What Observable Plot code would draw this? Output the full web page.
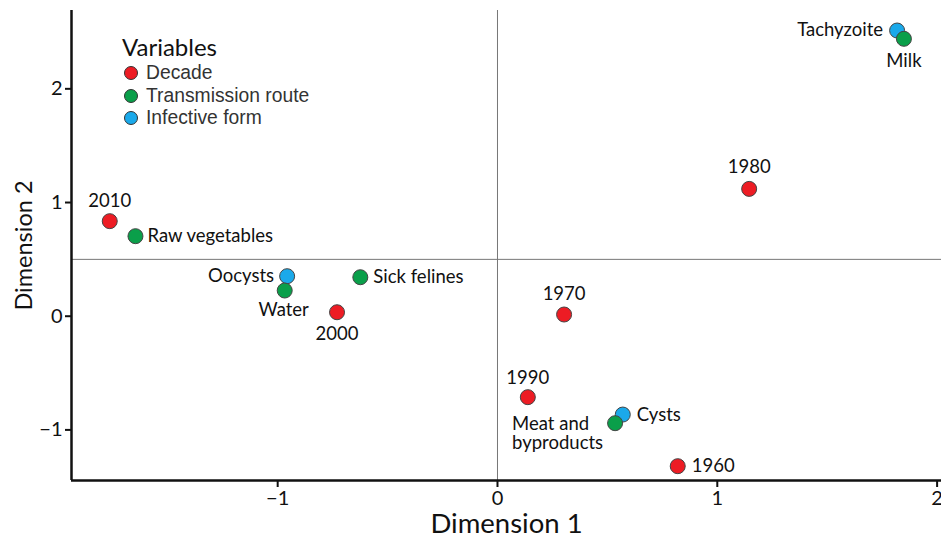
<!DOCTYPE html>
<html><head><meta charset="utf-8">
<script src="https://cdn.jsdelivr.net/npm/d3@7"></script>
<script src="https://cdn.jsdelivr.net/npm/@observablehq/plot@0.6"></script>
<style>
body{margin:0;background:#fff;}
#wrap{position:relative;width:941px;height:540px;overflow:hidden;}
#legend{position:absolute;left:122px;top:32px;font-family:"Liberation Sans",Arial,sans-serif;color:#333;}
#legend .title{font-family:Lato,sans-serif;font-size:24px;color:#111;line-height:30px;}
#legend .row{display:flex;align-items:center;height:22.5px;font-size:19.3px;}
#legend .sw{width:12px;height:12px;border-radius:50%;border:1px solid #333;margin:0 8px 0 2px;}
</style></head><body><div id="wrap"></div>
<script>
// ---- data ----
const names = ["Tachyzoite","Milk","1980","2010","Raw vegetables","Oocysts","Water","Sick felines","2000","1970","1990","Cysts","Meat and\nbyproducts","1960"];
const groups = ["Infective form","Transmission route","Decade","Decade","Transmission route","Infective form","Transmission route","Transmission route","Decade","Decade","Decade","Infective form","Transmission route","Decade"];
const dim1 = [1.818,1.849,1.145,-1.764,-1.647,-0.957,-0.968,-0.624,-0.730,0.303,0.138,0.570,0.535,0.820];
const dim2 = [2.513,2.440,1.120,0.836,0.704,0.352,0.226,0.343,0.035,0.015,-0.712,-0.865,-0.941,-1.319];
const legendLabels = ["Decade","Transmission route","Infective form"];
const legendColors = ["#ED1C24","#0A9F4A","#1AA9EA"];
const xTicks = [-1,0,1,2];
const yTicks = [-1,0,1,2];
const refX = [0];
const refY = [0.5];
const xTitle = "Dimension 1";
const yTitle = "Dimension 2";
const legendTitle = "Variables";

// ---- label placement (style) ----
const place = {
  "Tachyzoite": {a:"end", dx:-14, dy:-1},
  "Milk": {a:"middle", dx:0, dy:22},
  "1980": {a:"middle", dx:0, dy:-22},
  "2010": {a:"middle", dx:0, dy:-20},
  "Raw vegetables": {a:"start", dx:12, dy:0},
  "Oocysts": {a:"end", dx:-13, dy:0},
  "Water": {a:"middle", dx:-1, dy:19},
  "Sick felines": {a:"start", dx:13, dy:0},
  "2000": {a:"middle", dx:0, dy:22},
  "1970": {a:"middle", dx:0, dy:-21},
  "1990": {a:"middle", dx:0, dy:-19},
  "Cysts": {a:"start", dx:14, dy:0},
  "Meat and\nbyproducts": {a:"start", dx:-103, dy:10},
  "1960": {a:"start", dx:14, dy:0}
};

const data = names.map((n,i)=>({name:n, group:groups[i], x:dim1[i], y:dim2[i]}));
const xDom = [-1.938, 2.02];
const yDom = [-1.445, 2.689];
const fmt = d => (d < 0 ? "\u2212" : "") + Math.abs(d);

const labelMarks = data.map(d => Plot.text([d], {
  x:"x", y:"y", text:"name", textAnchor: place[d.name].a,
  dx: place[d.name].dx, dy: place[d.name].dy,
  fontSize: 18.5, fill:"#111", lineHeight: 1.05
}));

const chart = Plot.plot({
  width: 941, height: 540,
  marginLeft: 71, marginRight: 0, marginTop: 10, marginBottom: 60,
  style: {fontFamily: "Lato, sans-serif", background: "#fff", color:"#111", overflow:"visible"},
  x: {domain: xDom},
  y: {domain: yDom},
  color: {domain: legendLabels, range: legendColors},
  marks: [
    Plot.ruleX(refX, {stroke:"#777", strokeWidth:1}),
    Plot.ruleY(refY, {stroke:"#777", strokeWidth:1}),
    Plot.ruleX([xDom[0]], {stroke:"#111", strokeWidth:2.5}),
    Plot.ruleY([yDom[0]], {stroke:"#111", strokeWidth:2.5}),
    Plot.axisX({ticks: xTicks, tickFormat: fmt, tickSize: 7, tickPadding: 3, fontSize: 20, label: null, strokeWidth: 2, stroke:"#111"}),
    Plot.axisY({ticks: yTicks, tickFormat: fmt, tickSize: 6, tickPadding: 3, fontSize: 20, label: null, strokeWidth: 2, stroke:"#111"}),
    Plot.dot(data, {x:"x", y:"y", r:7.5, fill:"group", stroke:"#444", strokeWidth:1}),
    ...labelMarks,
    Plot.text([xTitle], {frameAnchor:"bottom", lineAnchor:"middle", textAnchor:"middle", dy:44, fontSize:27.5, fill:"#111"}),
    Plot.text([yTitle], {frameAnchor:"left", lineAnchor:"middle", textAnchor:"middle", dx:-47, rotate:-90, fontSize:23.5, fill:"#111"})
  ]
});
const wrap = document.getElementById("wrap");
wrap.appendChild(chart);

const lg = document.createElement("div");
lg.id = "legend";
const t = document.createElement("div"); t.className="title"; t.textContent = legendTitle; lg.appendChild(t);
legendLabels.forEach((l,i)=>{
  const r = document.createElement("div"); r.className="row";
  const s = document.createElement("span"); s.className="sw"; s.style.background = legendColors[i];
  const tx = document.createElement("span"); tx.textContent = l;
  r.appendChild(s); r.appendChild(tx); lg.appendChild(r);
});
wrap.appendChild(lg);
</script></body></html>
